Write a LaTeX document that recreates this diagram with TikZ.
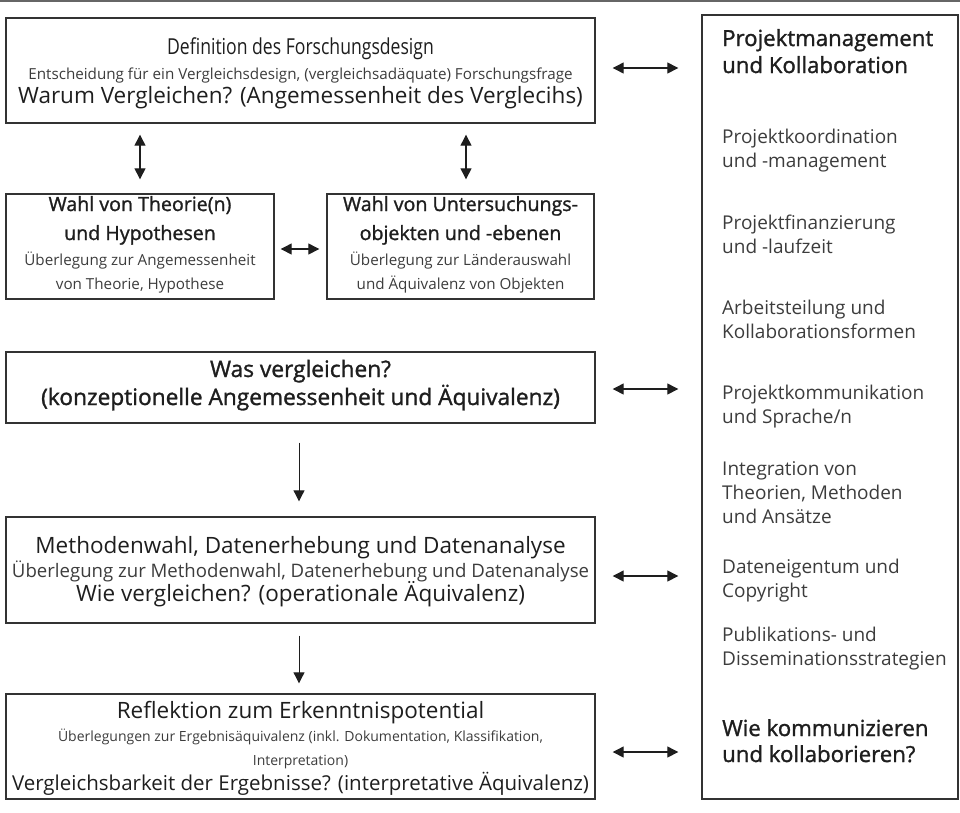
\documentclass[tikz,border=0pt]{standalone}
\usepackage{fontspec}
\setmainfont{Open Sans}
\newfontfamily\semifont[FakeBold=1.3]{Open Sans}
\newfontfamily\condfont[FakeStretch=0.8]{Open Sans}
\usetikzlibrary{arrows.meta}

\definecolor{ink}{HTML}{1E1E1E}
\definecolor{soft}{HTML}{3C3C3C}
\definecolor{frame}{HTML}{333333}

\tikzset{
  box/.style={draw=frame, line width=1.4pt, inner sep=0pt},
  txt/.style={anchor=base, inner sep=0pt, text=ink},
  big/.style={txt, font=\fontsize{22.5}{27}\selectfont},
  semi/.style={txt, font=\semifont\fontsize{19.6}{24}\selectfont},
  note/.style={txt, text=soft, font=\fontsize{15.2}{18}\selectfont},
  side/.style={anchor=base west, inner sep=0pt, text=soft, font=\fontsize{19}{23}\selectfont},
  sidehead/.style={anchor=base west, inner sep=0pt, text=ink, font=\semifont\fontsize{22.2}{26}\selectfont},
  link/.style={<->, line width=1.3pt, draw=ink},
  flow/.style={->, line width=1pt, draw=ink},
}

\begin{document}
\begin{tikzpicture}[x=1pt, y=-1pt, >={Triangle[length=11pt,width=11pt]}]
  \useasboundingbox (0,0) rectangle (960,812);
  \draw[line width=2pt, draw=black!60] (0,1) -- (960,1);

  % boxes
  \node[box, minimum width=589, minimum height=105] (design) at (300.5,70.5) {};
  \node[box, minimum width=268, minimum height=105] (theory) at (140,246.5) {};
  \node[box, minimum width=267, minimum height=105] (objects) at (460.5,246.5) {};
  \node[box, minimum width=589, minimum height=71] (what) at (300.5,387.5) {};
  \node[box, minimum width=589, minimum height=106] (method) at (300.5,570) {};
  \node[box, minimum width=589, minimum height=105] (reflect) at (300.5,746.5) {};
  \node[box, minimum width=256, minimum height=784] (team) at (830,407) {};

  % texts of the boxes
  \node[big, font=\condfont\fontsize{22}{26}\selectfont] (design-1) at (300.5,54) {Definition des Forschungsdesign};
  \node[note] (design-2) at (300.5,79) {Entscheidung für ein Vergleichsdesign, (vergleichsadäquate) Forschungsfrage};
  \node[big] (design-3) at (300.5,103) {Warum Vergleichen? (Angemessenheit des Verglecihs)};

  \node[semi] (theory-1) at (140,211) {Wahl von Theorie(n)};
  \node[semi] (theory-2) at (140,240) {und Hypothesen};
  \node[note] (theory-3) at (140,265) {Überlegung zur Angemessenheit};
  \node[note] (theory-4) at (140,289) {von Theorie, Hypothese};

  \node[semi] (objects-1) at (460.5,211) {Wahl von Untersuchungs-};
  \node[semi] (objects-2) at (460.5,240) {objekten und -ebenen};
  \node[note] (objects-3) at (460.5,265) {Überlegung zur Länderauswahl};
  \node[note] (objects-4) at (460.5,289) {und Äquivalenz von Objekten};

  \node[semi, font=\semifont\fontsize{22.7}{27}\selectfont] (what-1) at (300.5,377) {Was vergleichen?};
  \node[semi, font=\semifont\fontsize{22.7}{27}\selectfont] (what-2) at (300.5,405) {(konzeptionelle Angemessenheit und Äquivalenz)};

  \node[big] (method-1) at (300.5,553) {Methodenwahl, Datenerhebung und Datenanalyse};
  \node[note, font=\fontsize{18.6}{22}\selectfont] (method-2) at (300.5,577) {Überlegung zur Methodenwahl, Datenerhebung und Datenanalyse};
  \node[big] (method-3) at (300.5,601) {Wie vergleichen? (operationale Äquivalenz)};

  \node[big] (reflect-1) at (300.5,718) {Reflektion zum Erkenntnispotential};
  \node[note, font=\fontsize{14}{17}\selectfont] (reflect-2) at (300.5,741) {Überlegungen zur Ergebnisäquivalenz (inkl. Dokumentation, Klassifikation,};
  \node[note, font=\fontsize{14}{17}\selectfont] (reflect-3) at (300.5,765) {Interpretation)};
  \node[big, font=\fontsize{20.5}{25}\selectfont] (reflect-4) at (300.5,790) {Vergleichsbarkeit der Ergebnisse? (interpretative Äquivalenz)};

  % right column
  \node[sidehead] (team-1) at (722,46) {Projektmanagement};
  \node[sidehead] (team-2) at (722,73) {und Kollaboration};
  \foreach \y/\t [count=\i] in {143/Projektkoordination, 167/und -management,
      229/Projektfinanzierung, 253/und -laufzeit,
      314/Arbeitsteilung und, 338/Kollaborationsformen,
      399/Projektkommunikation, 423/{und Sprache/n},
      475/Integration von, 499/{Theorien, Methoden}, 523/und Ansätze,
      573/Dateneigentum und, 597/Copyright,
      641/Publikations- und, 665/Disseminationsstrategien}
    \node[side] (item-\i) at (722,\y) {\t};
  \node[sidehead] (team-3) at (722,736) {Wie kommunizieren};
  \node[sidehead] (team-4) at (722,762) {und kollaborieren?};

  % connectors
  \draw[link, shorten <=17pt, shorten >=23pt] ([yshift=2.5pt]design.east) -- ([yshift=2.5pt]design.east -| team.west);
  \draw[link, shorten <=17pt, shorten >=23pt] ([yshift=-1.5pt]what.east) -- ([yshift=-1.5pt]what.east -| team.west);
  \draw[link, shorten <=17pt, shorten >=23pt] ([yshift=-6pt]method.east) -- ([yshift=-6pt]method.east -| team.west);
  \draw[link, shorten <=17pt, shorten >=23pt] ([yshift=-5.5pt]reflect.east) -- ([yshift=-5.5pt]reflect.east -| team.west);

  \draw[link, shorten <=11pt, shorten >=14pt] (theory.north |- design.south) -- (theory.north);
  \draw[link, shorten <=11pt, shorten >=14pt] ([xshift=5.5pt]objects.north |- design.south) -- ([xshift=5.5pt]objects.north);
  \draw[link, shorten <=6pt, shorten >=7pt] ([yshift=-2.5pt]theory.east) -- ([yshift=-2.5pt]objects.west);

  \draw[flow, shorten <=19pt, shorten >=15pt] ([xshift=-1.5pt]what.south) -- ([xshift=-1.5pt]method.north);
  \draw[flow, shorten <=12pt, shorten >=10pt] ([xshift=-1.5pt]method.south) -- ([xshift=-1.5pt]reflect.north);
\end{tikzpicture}
\end{document}
